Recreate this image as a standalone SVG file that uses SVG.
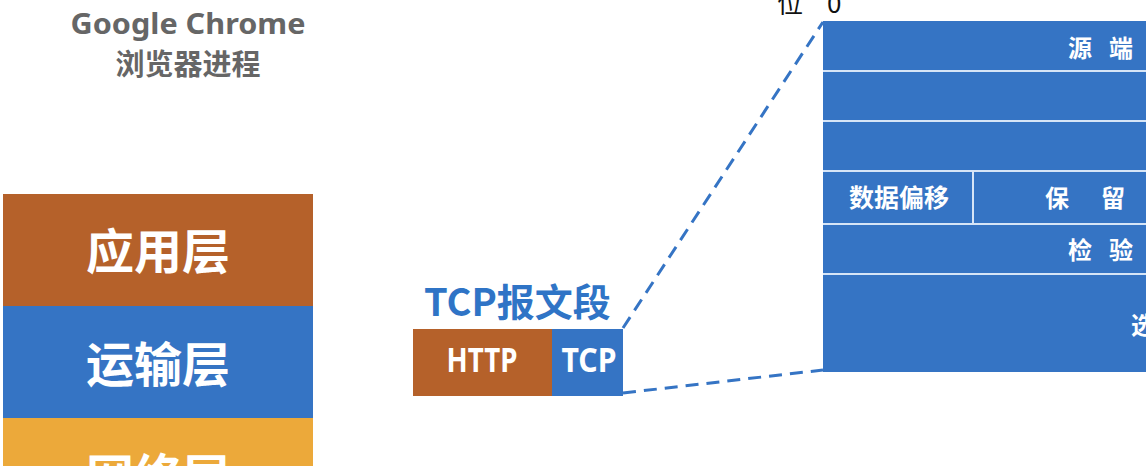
<svg xmlns="http://www.w3.org/2000/svg" width="1146" height="466" viewBox="0 0 1146 466">
<style>
.cjk{font-family:"Noto Sans CJK SC","Noto Sans",sans-serif}
.lat{font-family:"Noto Sans","Liberation Sans","Noto Sans CJK SC",sans-serif}
.w{fill:#ffffff}
.b{font-weight:bold}
.sep{stroke:#d6e5f7;stroke-width:2}
.dash{fill:none;stroke:#3574c4;stroke-width:3;stroke-dasharray:13 8}
</style>
<rect width="1146" height="466" fill="#ffffff"/>
<g id="title">
<text x="188" y="34" text-anchor="middle" class="lat b" font-size="28" fill="#666666" textLength="235" lengthAdjust="spacingAndGlyphs">Google Chrome</text>
<text x="188" y="75" text-anchor="middle" class="cjk b" font-size="29" fill="#666666">浏览器进程</text>
</g>
<g id="layer-app">
<rect x="3" y="194" width="310" height="112" fill="#b5612a"/>
<text x="158" y="269" text-anchor="middle" class="cjk b w" font-size="48">应用层</text>
</g>
<g id="layer-transport">
<rect x="3" y="306" width="310" height="112" fill="#3574c4"/>
<text x="158" y="382" text-anchor="middle" class="cjk b w" font-size="48">运输层</text>
</g>
<g id="layer-network">
<rect x="3" y="418" width="310" height="60" fill="#eca93a"/>
<text x="158" y="494" text-anchor="middle" class="cjk b w" font-size="48">网络层</text>
</g>
<g id="segment-label">
<text x="424" y="316" class="cjk b" font-size="38" fill="#2f74c6">TCP报文段</text>
</g>
<g id="seg-http">
<rect x="413" y="329" width="139" height="67" fill="#b5612a"/>
<text x="482" y="372" text-anchor="middle" class="lat b w" font-size="34" textLength="71" lengthAdjust="spacingAndGlyphs">HTTP</text>
</g>
<g id="seg-tcp">
<rect x="552" y="329" width="71" height="67" fill="#3574c4"/>
<text x="589" y="372" text-anchor="middle" class="lat b w" font-size="34" textLength="55" lengthAdjust="spacingAndGlyphs">TCP</text>
</g>
<g id="connectors">
<line class="dash" x1="623" y1="328" x2="823" y2="22"/>
<line class="dash" x1="623" y1="393" x2="823" y2="370"/>
</g>
<g id="tcp-header">
<rect x="823" y="21" width="330" height="351" fill="#3574c4"/>
<line class="sep" x1="823" y1="71" x2="1146" y2="71"/>
<line class="sep" x1="823" y1="121" x2="1146" y2="121"/>
<line class="sep" x1="823" y1="171" x2="1146" y2="171"/>
<line class="sep" x1="823" y1="224" x2="1146" y2="224"/>
<line class="sep" x1="823" y1="274" x2="1146" y2="274"/>
<line class="sep" x1="973" y1="171" x2="973" y2="224"/>
<text class="cjk b w" font-size="24" y="57"><tspan x="1068">源</tspan><tspan x="1109">端</tspan></text>
<text x="899" y="207" text-anchor="middle" class="cjk b w" font-size="25">数据偏移</text>
<text class="cjk b w" font-size="24" y="207"><tspan x="1045">保</tspan><tspan x="1101">留</tspan></text>
<text class="cjk b w" font-size="24" y="259"><tspan x="1068">检</tspan><tspan x="1109">验</tspan></text>
<text x="1131" y="334" class="cjk b w" font-size="24">选</text>
</g>
<g id="bit-label">
<text y="13" class="cjk" font-size="26" fill="#111111"><tspan x="777">位</tspan><tspan x="827">0</tspan></text>
</g>
</svg>
